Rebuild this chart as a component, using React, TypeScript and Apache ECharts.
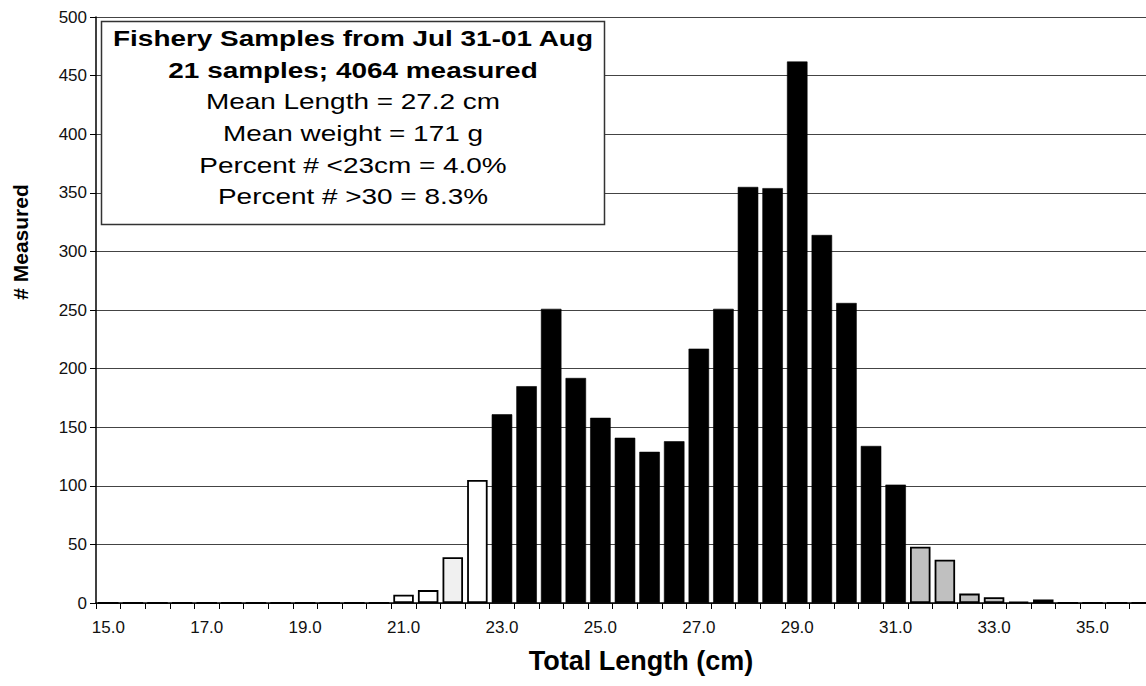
import React, { useEffect, useRef } from "react";
import * as echarts from "echarts";

const lengthCategories: string[] = [
  "15.0", "15.5", "16.0", "16.5", "17.0", "17.5", "18.0", "18.5", "19.0", "19.5",
  "20.0", "20.5", "21.0", "21.5", "22.0", "22.5", "23.0", "23.5", "24.0", "24.5",
  "25.0", "25.5", "26.0", "26.5", "27.0", "27.5", "28.0", "28.5", "29.0", "29.5",
  "30.0", "30.5", "31.0", "31.5", "32.0", "32.5", "33.0", "33.5", "34.0", "34.5",
  "35.0", "35.5", "36.0",
];

const measuredCounts: number[] = [
  0, 0, 0, 0, 0, 0, 0, 0, 0, 0,
  0, 0, 7, 11, 39, 105, 161, 185, 251, 192,
  158, 141, 129, 138, 217, 251, 355, 354, 462, 314,
  256, 134, 101, 48, 37, 8, 5, 1, 3, 0,
  0, 0, 0,
];

const yTicks = { min: 0, max: 500, interval: 50 };

const boxLines: { text: string; bold: boolean }[] = [
  { text: "Fishery Samples from Jul 31-01 Aug", bold: true },
  { text: "21 samples; 4064 measured", bold: true },
  { text: "Mean Length = 27.2 cm", bold: false },
  { text: "Mean weight = 171 g", bold: false },
  { text: "Percent # <23cm = 4.0%", bold: false },
  { text: "Percent # >30 = 8.3%", bold: false },
];

const xTitle = "Total Length (cm)";
const yTitle = "# Measured";

const FONT = "'Liberation Sans', Arial, sans-serif";

function fillFor(cat: string): string {
  const v = parseFloat(cat);
  if (v < 23) return v === 22 ? "#f0f0f0" : "#ffffff";
  if (v <= 31) return "#000000";
  return "#c0c0c0";
}

export default function App() {
  const ref = useRef<HTMLDivElement>(null);

  useEffect(() => {
    if (!ref.current) return;
    const chart = echarts.init(ref.current, undefined, { renderer: "svg" });

    const lineGap = 31.7;
    const boxTextEls = boxLines.map((l, i) => ({
      type: "text",
      x: 353,
      y: 38 + i * lineGap,
      scaleX: 1.27,
      style: {
        text: l.text,
        font: `${l.bold ? "bold " : ""}22px ${FONT}`,
        fill: "#000",
        textAlign: "center",
        textVerticalAlign: "middle",
      },
      z: 101,
    }));

    chart.setOption({
      animation: false,
      backgroundColor: "#ffffff",
      grid: { left: 96, right: 6, top: 17, bottom: 83, containLabel: false },
      xAxis: {
        type: "category",
        data: lengthCategories,
        boundaryGap: true,
        axisLine: { show: true, lineStyle: { color: "#000", width: 1.5 } },
        axisTick: { show: true, interval: 0, length: 6, lineStyle: { color: "#000", width: 1 } },
        axisLabel: {
          interval: 3,
          fontSize: 17,
          fontFamily: FONT,
          color: "#111",
          margin: 16,
        },
        splitLine: { show: false },
      },
      yAxis: {
        type: "value",
        min: yTicks.min,
        max: yTicks.max,
        interval: yTicks.interval,
        axisLine: { show: true, lineStyle: { color: "#000", width: 1.5 } },
        axisTick: { show: true, length: 6, lineStyle: { color: "#000", width: 1 } },
        axisLabel: { fontSize: 17, fontFamily: FONT, color: "#111", margin: 9 },
        splitLine: { show: true, lineStyle: { color: "#444", width: 1 } },
      },
      series: [
        {
          type: "bar",
          data: measuredCounts.map((v, i) => ({
            value: v,
            itemStyle: {
              color: fillFor(lengthCategories[i]),
              borderColor: "#000",
              borderWidth: fillFor(lengthCategories[i]) === "#000000" ? 0.6 : 1.8,
            },
          })),
          barWidth: 20.5,
        },
      ],
      graphic: [
        {
          type: "rect",
          shape: { x: 101.5, y: 21.5, width: 503, height: 203 },
          style: { fill: "#fff", stroke: "#333", lineWidth: 1.5 },
          z: 100,
        },
        ...boxTextEls,
        {
          type: "text",
          x: 641,
          y: 661,
          style: {
            text: xTitle,
            font: `bold 27px ${FONT}`,
            fill: "#000",
            textAlign: "center",
            textVerticalAlign: "middle",
          },
        },
        {
          type: "text",
          x: 20,
          y: 242,
          rotation: Math.PI / 2,
          style: {
            text: yTitle,
            font: `bold 21px ${FONT}`,
            fill: "#000",
            textAlign: "center",
            textVerticalAlign: "middle",
          },
        },
      ],
    });

    return () => chart.dispose();
  }, []);

  return (
    <div
      style={{
        position: "fixed",
        left: 0,
        top: 0,
        width: 1146,
        height: 686,
        overflow: "hidden",
        background: "#fff",
      }}
    >
      <div ref={ref} style={{ width: 1160, height: 686 }} />
    </div>
  );
}
